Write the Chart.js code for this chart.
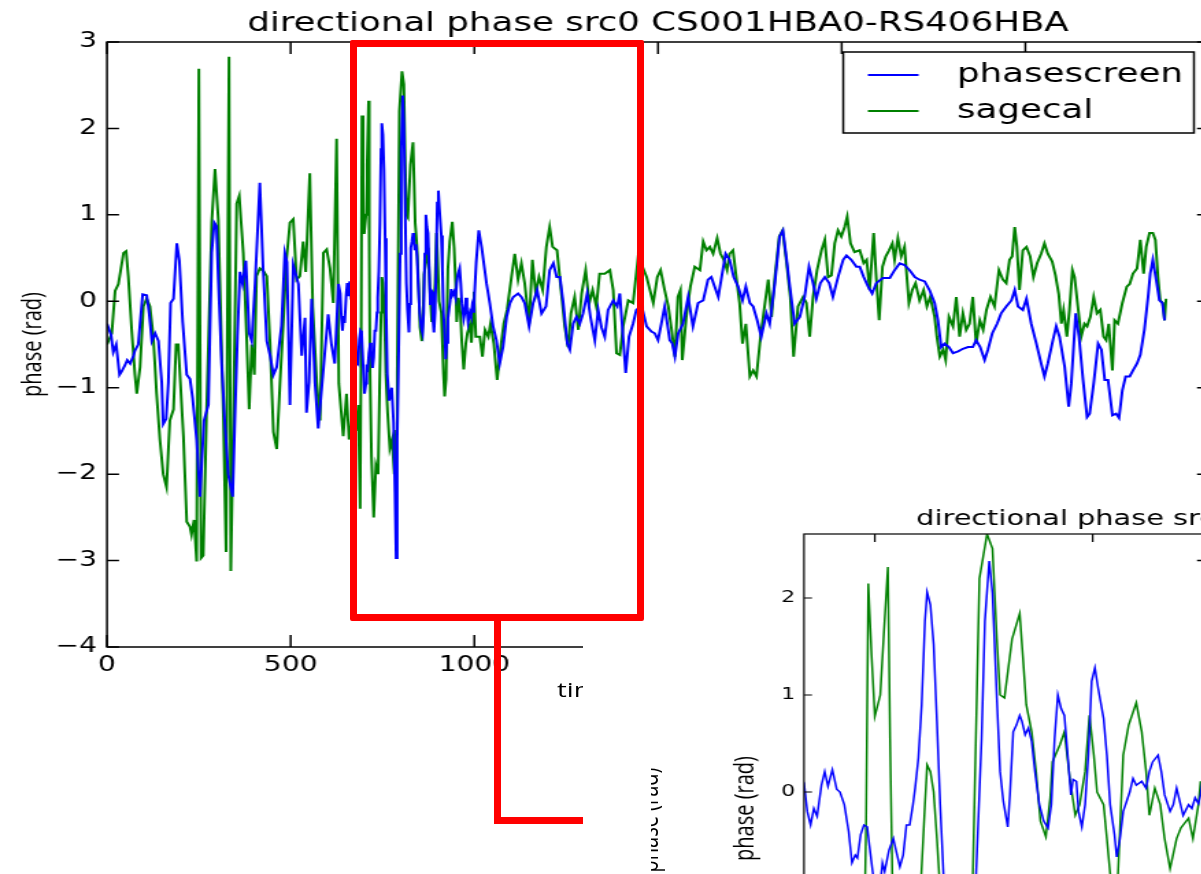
<!DOCTYPE html>
<html>
<head>
<meta charset="utf-8">
<title>directional phase src0</title>
<script src="https://cdn.jsdelivr.net/npm/chart.js"></script>
<style>
  body { margin: 0; width: 1201px; height: 874px; overflow: hidden; background: #fff; position: relative; }
  canvas { position: absolute; transform-origin: 0 0; }
  #main { left: 0; top: 0; z-index: 1; }
  #inset { left: 700px; top: 480px; z-index: 6; }
  .red { position: absolute; background: #ff0000; z-index: 2; }
  #zoomBox { position: absolute; left: 350px; top: 40px; width: 294px; height: 581px;
             border: 7px solid #ff0000; box-sizing: border-box; border-radius: 2px; z-index: 2; }
  #cover { position: absolute; left: 583px; top: 630px; width: 700px; height: 300px; background: #fff; z-index: 3; }
  .axisText { position: absolute; font-family: "Open Sans"; font-size: 20px; line-height: 24px;
              color: #000; white-space: nowrap; }
</style>
</head>
<body>
<canvas id="main" width="898" height="874"></canvas>
<div id="zoomBox"></div>
<div class="red" style="left:494px; top:617px; width:7px; height:207px;"></div>
<div class="red" style="left:494px; top:817px; width:120px; height:7px;"></div>
<div class="axisText" style="left:557px; top:678px; z-index:2; transform:scaleX(1.37); transform-origin:0 0;">time (s)</div>
<div id="cover"></div>
<div style="position:absolute; left:651px; top:760px; width:25px; height:114px; overflow:hidden; z-index:4;">
  <div class="axisText" style="left:-63px; top:48px; width:120px; text-align:center; transform:scaleX(1.37) rotate(-90deg);">phase (rad)</div>
</div>
<canvas id="inset" width="750" height="700"></canvas>
<script>
// time (x) and phase values
const blueT = [
  0, 11, 17, 25, 34, 40, 49, 55, 63, 72, 76, 85, 97, 108, 115, 122,
  131, 140, 149, 153, 161, 167, 173, 181, 190, 197, 206, 217, 226, 233, 244, 253,
  264, 276, 285, 292, 298, 303, 312, 321, 330, 342, 348, 355, 362, 369, 378, 387,
  394, 403, 416, 425, 435, 444, 453, 462, 475, 484, 490, 498, 507, 521, 530, 539,
  543, 550, 557, 566, 575, 584, 593, 602, 611, 620, 630, 635, 638, 641, 644, 647,
  651, 654, 657, 661, 665, 668, 672, 676, 679, 682, 684, 687, 690, 693, 695, 698,
  701, 705, 707, 709, 713, 717, 719, 723, 726, 729, 732, 735, 737, 740, 743, 746,
  748, 751, 754, 757, 760, 763, 768, 775, 780, 784, 787, 790, 793, 798, 801, 805,
  808, 812, 815, 818, 822, 824, 827, 830, 833, 835, 838, 841, 844, 847, 851, 855,
  859, 862, 865, 868, 871, 874, 877, 880, 882, 885, 887, 890, 893, 896, 899, 902,
  905, 910, 913, 916, 920, 922, 925, 928, 931, 934, 937, 940, 945, 949, 952, 955,
  960, 963, 966, 971, 974, 977, 980, 983, 988, 991, 994, 997, 999, 1005, 1012, 1020,
  1033, 1042, 1051, 1060, 1069, 1078, 1088, 1097, 1106, 1119, 1128, 1137, 1149, 1160, 1171, 1183,
  1195, 1205, 1215, 1224, 1233, 1242, 1253, 1260, 1269, 1278, 1287, 1296, 1307, 1316, 1328, 1337,
  1346, 1355, 1364, 1378, 1389, 1396, 1412, 1421, 1432, 1441, 1455, 1469, 1482, 1491, 1500, 1509,
  1518, 1532, 1539, 1546, 1555, 1568, 1582, 1595, 1609, 1623, 1636, 1645, 1654, 1664, 1673, 1684,
  1695, 1706, 1718, 1730, 1739, 1750, 1759, 1770, 1781, 1795, 1804, 1818, 1831, 1840, 1849, 1860,
  1872, 1886, 1899, 1911, 1922, 1931, 1942, 1954, 1966, 1976, 1990, 2004, 2013, 2026, 2040, 2049,
  2060, 2072, 2083, 2094, 2112, 2131, 2144, 2158, 2171, 2185, 2199, 2212, 2226, 2239, 2253, 2262,
  2271, 2280, 2292, 2303, 2317, 2330, 2344, 2357, 2366, 2377, 2389, 2398, 2410, 2423, 2434, 2448,
  2462, 2471, 2480, 2493, 2503, 2516, 2530, 2543, 2552, 2561, 2575, 2584, 2593, 2607, 2618, 2625,
  2637, 2646, 2657, 2668, 2675, 2686, 2698, 2707, 2716, 2725, 2737, 2747, 2755, 2764, 2773, 2784,
  2793, 2804, 2813, 2824, 2834, 2840, 2847, 2856, 2865, 2873, 2879
];
const blueV = [
  -0.26, -0.39, -0.59, -0.50, -0.85, -0.81, -0.74, -0.68, -0.72, -0.63, -0.57, -0.50, 0.08, 0.07, -0.15, -0.46,
  -0.37, -0.46, -0.94, -1.42, -1.36, -0.94, -0.02, 0.03, 0.67, 0.47, -0.24, -0.85, -0.90, -1.12, -1.60, -2.26,
  -1.38, -1.20, 0.56, 0.91, 0.87, 0.25, -0.72, -1.42, -2.00, -2.26, -1.38, -0.41, 0.34, 0.20, 0.47, -0.37,
  -0.46, 0.20, 1.37, 0.38, -0.46, -0.63, -0.85, -0.76, -0.28, 0.56, 0.45, -1.20, 0.42, 0.20, -0.63, -0.19,
  -1.29, -0.94, 0.03, -0.94, -1.47, -1.03, -0.59, -0.15, -0.50, -0.72, 0.20, 0.09, -0.20, -0.34, -0.17, -0.25,
  0.07, 0.21, 0.06, 0.23, 0.03, 0.00, -0.13, -0.41, -0.73, -0.65, -0.68, -0.44, -0.34, -0.36, -0.55, -0.82,
  -1.07, -0.95, -0.73, -0.82, -0.60, -0.48, -0.58, -0.77, -0.65, -0.34, -0.34, -0.13, 0.04, 0.35, 0.90, 1.76,
  2.06, 1.93, 1.52, 0.73, -0.13, -0.84, -1.15, -1.00, -1.40, -2.20, -2.97, -1.60, -0.84, 0.55, 1.76, 2.38,
  2.05, 0.97, 0.21, -0.10, -0.36, -0.03, 0.62, 0.69, 0.79, 0.73, 0.59, 0.66, 0.52, 0.21, -0.13, -0.30,
  -0.37, -0.13, 0.55, 1.00, 0.86, 0.79, 0.38, -0.03, 0.13, 0.11, -0.20, -0.36, -0.13, 0.38, 1.14, 1.28,
  1.07, 0.76, 0.38, -0.13, -0.44, -0.67, -0.48, -0.20, -0.10, 0.00, 0.14, 0.07, 0.11, 0.04, 0.21, 0.31,
  0.38, 0.21, -0.03, -0.20, -0.13, 0.04, -0.10, -0.24, -0.13, -0.17, -0.06, -0.12, -0.03, 0.45, 0.82, 0.62,
  0.21, -0.02, -0.29, -0.45, -0.72, -0.53, -0.18, -0.02, 0.05, 0.09, 0.05, -0.02, -0.29, -0.02, 0.13, -0.14,
  -0.06, 0.36, 0.44, 0.28, 0.28, -0.02, -0.49, -0.56, -0.26, -0.18, -0.26, -0.14, 0.09, -0.18, -0.45, -0.10,
  -0.30, -0.41, -0.10, 0.01, -0.06, 0.09, -0.83, -0.41, -0.26, -0.10, -0.05, -0.29, -0.35, -0.37, -0.45, -0.26,
  -0.06, -0.45, -0.49, -0.64, -0.37, -0.26, 0.05, -0.29, -0.02, 0.01, 0.25, 0.28, 0.17, 0.05, 0.28, 0.55,
  0.48, 0.28, 0.17, 0.01, 0.17, -0.02, -0.06, -0.22, -0.41, -0.14, -0.26, 0.21, 0.75, 0.82, 0.52, 0.13,
  -0.26, -0.18, 0.05, 0.40, 0.21, 0.03, 0.21, 0.28, 0.21, 0.05, 0.28, 0.48, 0.53, 0.48, 0.40, 0.40,
  0.28, 0.17, 0.09, 0.21, 0.27, 0.27, 0.36, 0.44, 0.42, 0.36, 0.28, 0.25, 0.23, 0.13, -0.02, -0.22,
  -0.53, -0.49, -0.53, -0.60, -0.58, -0.55, -0.53, -0.53, -0.45, -0.53, -0.68, -0.56, -0.37, -0.26, -0.14, -0.06,
  0.01, 0.13, -0.06, -0.10, 0.03, -0.26, -0.49, -0.72, -0.87, -0.72, -0.45, -0.29, -0.41, -0.76, -1.22, -0.95,
  -0.14, -0.41, -0.91, -1.34, -1.30, -0.95, -0.49, -0.56, -0.91, -0.91, -1.32, -1.30, -1.35, -1.03, -0.87, -0.87,
  -0.80, -0.72, -0.62, -0.33, 0.05, 0.32, 0.48, 0.25, 0.01, -0.02, -0.22
];
const greenT = [
  0, 13, 22, 31, 45, 52, 58, 67, 76, 81, 90, 99, 108, 117, 126, 135,
  144, 153, 162, 171, 181, 188, 194, 208, 217, 226, 230, 237, 244, 250, 256, 262,
  271, 285, 294, 303, 317, 324, 332, 337, 344, 353, 360, 371, 380, 387, 394, 401,
  407, 416, 426, 435, 444, 453, 462, 471, 480, 489, 498, 507, 516, 525, 534, 541,
  552, 560, 571, 580, 589, 598, 607, 616, 625, 631, 643, 652, 659, 670, 677, 684,
  689, 692, 694, 697, 700, 705, 708, 712, 714, 716, 720, 726, 732, 738, 742, 746,
  748, 751, 754, 757, 759, 764, 770, 776, 782, 787, 790, 796, 803, 808, 812, 815,
  819, 826, 833, 836, 839, 844, 848, 852, 857, 861, 863, 870, 874, 879, 884, 888,
  893, 897, 901, 904, 910, 913, 916, 919, 923, 928, 933, 940, 945, 949, 952, 957,
  962, 966, 971, 977, 981, 988, 992, 997, 999, 1004, 1015, 1022, 1029, 1038, 1044, 1053,
  1062, 1071, 1080, 1089, 1101, 1110, 1119, 1128, 1137, 1149, 1158, 1167, 1176, 1186, 1196, 1205,
  1213, 1225, 1234, 1246, 1255, 1263, 1273, 1283, 1292, 1303, 1313, 1322, 1332, 1341, 1355, 1369,
  1378, 1387, 1396, 1405, 1419, 1432, 1446, 1469, 1478, 1487, 1498, 1507, 1518, 1528, 1537, 1546,
  1554, 1561, 1566, 1577, 1588, 1600, 1614, 1623, 1632, 1641, 1650, 1661, 1670, 1679, 1688, 1695,
  1704, 1713, 1722, 1730, 1739, 1750, 1759, 1768, 1779, 1790, 1800, 1809, 1818, 1830, 1839, 1849,
  1860, 1869, 1881, 1895, 1904, 1913, 1922, 1933, 1945, 1954, 1963, 1972, 1981, 1990, 1999, 2008,
  2015, 2024, 2035, 2049, 2060, 2068, 2076, 2087, 2094, 2102, 2111, 2120, 2129, 2138, 2144, 2153,
  2162, 2171, 2183, 2192, 2201, 2212, 2223, 2232, 2241, 2253, 2259, 2267, 2276, 2283, 2292, 2303,
  2312, 2321, 2330, 2339, 2348, 2357, 2366, 2376, 2385, 2394, 2405, 2416, 2428, 2439, 2448, 2457,
  2464, 2471, 2477, 2484, 2493, 2503, 2513, 2522, 2532, 2543, 2552, 2561, 2573, 2582, 2591, 2598,
  2604, 2613, 2620, 2628, 2634, 2643, 2652, 2661, 2668, 2677, 2686, 2695, 2704, 2713, 2720, 2727,
  2737, 2743, 2752, 2764, 2776, 2784, 2793, 2804, 2813, 2822, 2829, 2838, 2847, 2854, 2861, 2867,
  2874, 2879, 2883
];
const greenV = [
  -0.50, -0.37, 0.12, 0.20, 0.56, 0.58, 0.29, -0.32, -0.85, -1.07, -0.76, -0.06, 0.03, -0.06, -0.41, -1.07,
  -1.60, -2.00, -2.15, -1.38, -1.25, -0.50, -0.50, -1.56, -2.55, -2.61, -2.70, -2.53, -3.01, 2.69, -2.97, -2.94,
  -1.29, 0.91, 1.53, 0.95, -1.38, -2.90, 2.83, -3.12, -1.42, 1.13, 1.22, 0.56, -0.41, -1.25, -0.50, -0.85,
  0.29, 0.38, 0.35, 0.29, -0.50, -1.51, -1.71, -0.94, -0.24, 0.50, 0.91, 0.95, 0.25, 0.29, 0.69, 0.34,
  1.48, -0.06, -0.94, -1.38, 0.56, 0.60, 0.38, -0.02, 1.88, -0.95, -1.56, -1.07, -1.60, -1.30, -1.50, -1.20,
  -2.40, -0.30, 2.15, 1.41, 0.78, 1.00, 1.58, 2.32, 0.55, -0.84, -1.80, -2.50, -1.90, -2.00, -1.00, -0.13,
  0.28, 0.21, 0.00, -0.48, -0.84, -1.30, -1.70, -1.60, -2.00, -1.50, -0.84, 2.20, 2.66, 2.51, 1.58, 1.00,
  0.97, 1.58, 1.84, 1.38, 0.90, 0.62, 0.21, -0.30, -0.46, -0.06, 0.31, 0.49, 0.62, 0.14, -0.24, -0.13,
  0.21, 0.79, 0.38, 0.00, -0.13, -0.48, -0.84, -1.10, -0.90, 0.38, 0.69, 0.92, 0.62, 0.21, -0.24, 0.04,
  -0.13, -0.48, -0.79, -0.48, -0.37, -0.27, -0.48, -0.13, 0.11, -0.41, -0.41, -0.64, -0.33, -0.41, -0.26, -0.49,
  -0.91, -0.56, -0.26, -0.10, 0.28, 0.55, 0.25, 0.44, 0.21, -0.26, 0.48, 0.09, 0.28, 0.13, 0.63, 0.86,
  0.63, 0.59, 0.21, -0.29, -0.53, -0.14, 0.05, -0.33, 0.09, 0.36, -0.02, 0.13, -0.06, 0.32, 0.32, 0.36,
  0.13, -0.60, -0.62, -0.29, 0.01, -0.02, 0.52, 0.28, 0.13, -0.02, 0.28, 0.36, 0.13, -0.06, -0.33, -0.64,
  0.05, 0.13, -0.68, -0.18, 0.17, 0.40, 0.36, 0.69, 0.59, 0.63, 0.55, 0.73, 0.55, 0.48, 0.36, 0.55,
  0.59, 0.28, -0.02, -0.49, -0.26, -0.87, -0.80, -0.87, -0.41, -0.06, 0.25, -0.18, 0.28, 0.75, 0.82, 0.48,
  0.05, -0.64, -0.06, 0.05, -0.02, -0.41, 0.05, 0.36, 0.59, 0.71, 0.28, 0.30, 0.67, 0.82, 0.75, 0.86,
  0.98, 0.67, 0.57, 0.59, 0.44, 0.48, 0.13, 0.79, 0.28, -0.22, 0.40, 0.52, 0.59, 0.67, 0.48, 0.73,
  0.52, 0.63, -0.02, 0.13, 0.21, 0.01, 0.13, -0.06, 0.05, -0.18, -0.41, -0.64, -0.56, -0.68, -0.18, -0.29,
  0.05, -0.41, -0.14, -0.33, -0.26, 0.05, -0.49, -0.22, -0.33, -0.10, 0.05, -0.06, 0.36, 0.25, 0.21, 0.48,
  0.52, 0.86, 0.63, 0.13, 0.59, 0.63, 0.52, 0.28, 0.44, 0.55, 0.67, 0.55, 0.46, 0.30, 0.08, -0.26,
  -0.10, -0.41, -0.10, 0.36, 0.28, -0.06, -0.41, -0.26, -0.29, -0.18, 0.05, -0.14, -0.10, -0.41, -0.45, -0.26,
  -0.80, -0.22, -0.26, -0.02, 0.17, 0.20, 0.32, 0.38, 0.71, 0.32, 0.63, 0.79, 0.79, 0.71, 0.28, 0.01,
  -0.02, -0.22, 0.03
];

const seriesNames = ["phasescreen", "sagecal"];
const chartTitle = "directional phase src0 CS001HBA0-RS406HBA";
const mainXTicks = [0, 500, 1000, 1500, 2000, 2500];
const mainYTicks = [-4, -3, -2, -1, 0, 1, 2, 3];
const insetXTicks = [700, 900, 1100, 1300];
const insetYTicks = [-3, -2, -1, 0, 1, 2];

// the source picture is stretched sideways, so both canvases are too
const K = 1.37;
document.getElementById("main").style.transform = "scaleX(" + K + ")";
document.getElementById("inset").style.transform = "scaleX(" + K + ")";

const points = (ts, vs) => ts.map((t, i) => ({ x: t, y: vs[i] }));
const minus = v => (v < 0 ? "\u2212" + (-v) : String(v));

// matplotlib style frame: box round the plot, ticks pointing inwards
const frame = {
    id: "frame",
    afterDatasetsDraw(chart, args, opts) {
        const { ctx, chartArea: a, scales: { x, y } } = chart;
        ctx.save();
        ctx.strokeStyle = "#000";
        ctx.lineWidth = opts.width;
        ctx.strokeRect(a.left, a.top, a.right - a.left, a.bottom - a.top);
        ctx.beginPath();
        x.ticks.forEach(t => {
            const px = x.getPixelForValue(t.value);
            ctx.moveTo(px, a.bottom); ctx.lineTo(px, a.bottom - opts.len);
            ctx.moveTo(px, a.top); ctx.lineTo(px, a.top + opts.len);
        });
        y.ticks.forEach(t => {
            const py = y.getPixelForValue(t.value);
            ctx.moveTo(a.left, py); ctx.lineTo(a.left + opts.len / K, py);
            ctx.moveTo(a.right, py); ctx.lineTo(a.right - opts.len / K, py);
        });
        ctx.stroke();
        ctx.restore();
    }
};

// legend box in the upper right corner of the main plot
const boxLegend = {
    id: "boxLegend",
    afterDraw(chart) {
        const { ctx, chartArea: a } = chart;
        const left = a.right - 267, top = a.top + 10, w = 256, h = 81;
        ctx.save();
        ctx.fillStyle = "#fff";
        ctx.fillRect(left, top, w, h);
        ctx.strokeStyle = "#000";
        ctx.lineWidth = 1.5;
        ctx.strokeRect(left, top, w, h);
        ctx.font = '26px "DejaVu Sans"';
        ctx.textBaseline = "middle";
        chart.data.datasets.forEach((ds, i) => {
            const yy = top + 23 + i * 36;
            ctx.strokeStyle = ds.borderColor;
            ctx.lineWidth = 1.8;
            ctx.beginPath();
            ctx.moveTo(left + 18, yy);
            ctx.lineTo(left + 55, yy);
            ctx.stroke();
            ctx.fillStyle = "#000";
            ctx.fillText(ds.label, left + 83, yy);
        });
        ctx.restore();
    }
};

function makeDatasets(width) {
    return [
        { label: seriesNames[0], data: points(blueT, blueV), borderColor: "#0000ff",
          borderWidth: width, pointRadius: 0, tension: 0 },
        { label: seriesNames[1], data: points(greenT, greenV), borderColor: "#008000",
          borderWidth: width, pointRadius: 0, tension: 0 }
    ];
}

function axis(opt) {
    return {
        type: "linear", min: opt.min, max: opt.max,
        afterBuildTicks: s => { s.ticks = opt.ticks.map(v => ({ value: v })); },
        afterFit: opt.fit,
        grid: { display: false, drawTicks: false },
        border: { display: false },
        ticks: { font: { family: "DejaVu Sans", size: opt.font }, color: "#000",
                 padding: opt.pad, maxRotation: 0, autoSkip: false, callback: minus },
        title: opt.title || { display: false }
    };
}

// main chart
new Chart(document.getElementById("main"), {
    type: "line",
    data: { datasets: makeDatasets(2.0) },
    options: {
        responsive: false, animation: false, devicePixelRatio: 1, events: [],
        layout: { padding: { left: 0, right: 15.5, top: 0, bottom: 0 } },
        scales: {
            x: axis({ min: 0, max: 3000, ticks: mainXTicks, font: 20.5, pad: 6,
                      fit: s => { s.height = 227; } }),
            y: axis({ min: -4, max: 3, ticks: mainYTicks, font: 20.5, pad: 7.3,
                      fit: s => { s.width = 107 / K; },
                      title: { display: true, text: "phase (rad)", color: "#000",
                               font: { family: "Open Sans", size: 20 }, padding: { top: 12, bottom: 0 } } })
        },
        plugins: {
            legend: { display: false },
            tooltip: { enabled: false },
            title: { display: true, text: chartTitle, fullSize: false, color: "#000",
                     font: { family: "DejaVu Sans", size: 26, weight: "normal" },
                     padding: { top: 9, bottom: 1.8 } },
            frame: { width: 1.5, len: 12 }
        }
    },
    plugins: [frame, boxLegend]
});

// zoomed inset
new Chart(document.getElementById("inset"), {
    type: "line",
    data: { datasets: makeDatasets(1.5) },
    options: {
        responsive: false, animation: false, devicePixelRatio: 1, events: [],
        layout: { padding: { left: 0, right: 26, top: 0, bottom: 0 } },
        scales: {
            x: axis({ min: 635, max: 1450, ticks: insetXTicks, font: 16, pad: 6,
                      fit: s => { s.height = 97; } }),
            y: axis({ min: -3, max: 2.66, ticks: insetYTicks, font: 16, pad: 6.6,
                      fit: s => { s.width = 104 / K; },
                      title: { display: true, text: "phase (rad)", color: "#000",
                               font: { family: "Open Sans", size: 20 }, padding: { top: 20.8, bottom: 0 } } })
        },
        plugins: {
            legend: { display: false },
            tooltip: { enabled: false },
            title: { display: true, text: chartTitle, fullSize: false, color: "#000",
                     font: { family: "DejaVu Sans", size: 21, weight: "normal" },
                     padding: { top: 27.4, bottom: 1.4 } },
            frame: { width: 1.2, len: 8 }
        }
    },
    plugins: [frame]
});
</script>
</body>
</html>
